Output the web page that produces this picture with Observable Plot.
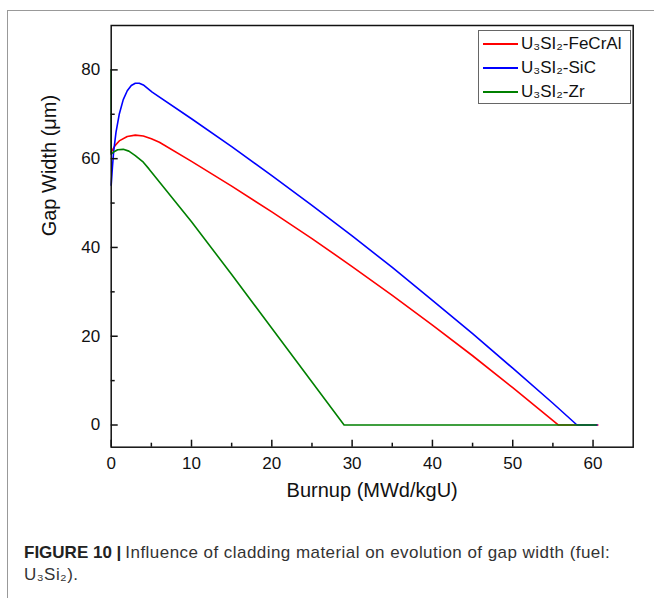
<!DOCTYPE html>
<html><head><meta charset="utf-8">
<script src="https://cdn.jsdelivr.net/npm/d3@7"></script>
<script src="https://cdn.jsdelivr.net/npm/@observablehq/plot@0.6"></script>
<style>
body{margin:0;background:#fff;font-family:"Liberation Sans",Arial,sans-serif;}
#wrap{position:relative;width:654px;height:598px;overflow:hidden;}
#border{position:absolute;left:7px;top:10px;width:700px;height:700px;border-left:1px solid #999;border-top:1px solid #999;}
#chart{position:absolute;left:0;top:0;}
#legend{position:absolute;left:478px;top:30px;width:153px;height:74px;box-sizing:border-box;border:1px solid #666;background:#fff;font-size:17px;color:#111;}
.row{position:absolute;left:0;height:20px;width:150px;}
.sw{position:absolute;left:4px;top:9px;width:35px;height:2px;}
.lab{position:absolute;left:42px;top:0;line-height:20px;white-space:nowrap;}
#caption{position:absolute;left:24px;top:542px;font-size:17px;line-height:22px;color:#333;width:625px;letter-spacing:0.45px;}
#caption div{white-space:nowrap;height:22px;}
#caption b{color:#222;letter-spacing:0;margin-right:4px;}
</style></head>
<body><div id="wrap"><div id="border"></div><div id="chart"></div><div id="legend"></div>
<div id="caption"><div><b>FIGURE 10 |</b><span>Influence of cladding material on evolution of gap width (fuel:</span></div><div>U₃Si₂).</div></div></div>
<script>
// Data
const seriesNames = ["FeCrAl", "SiC", "Zr"];
const seriesColors = ["#ff0000", "#0000ff", "#008000"];
const burnupFeCrAl = [0, 0.5, 1, 2, 3, 4, 5, 6, 10, 15, 20, 25, 30, 35, 40, 45, 50, 55.7, 60.6];
const gapFeCrAl   = [61.5, 63, 64, 65, 65.3, 65.1, 64.5, 63.7, 59.4, 53.8, 48.0, 42.0, 35.7, 29.2, 22.5, 15.6, 8.4, 0, 0];
const burnupSiC = [0, 0.15, 0.3, 0.6, 1, 1.5, 2, 2.5, 3, 3.5, 4, 5.1, 10, 15, 20, 25, 30, 35, 40, 45, 50, 55, 58, 60.5];
const gapSiC   = [54, 58, 61.5, 66, 70, 73.3, 75.3, 76.5, 77, 77, 76.6, 75, 69.0, 62.7, 56.2, 49.5, 42.6, 35.5, 28.1, 20.6, 12.8, 4.9, 0, 0];
const burnupZr = [0, 0, 0.3, 0.8, 1.5, 2.2, 3, 4, 4.7, 10, 15, 20, 25, 29, 60.4];
const gapZr   = [80, 61, 61.5, 62, 62.1, 61.7, 60.7, 59.2, 57.7, 45.8, 33.9, 21.8, 9.7, 0, 0];
const xMajorTicks = [0, 10, 20, 30, 40, 50, 60];
const xMinorTicks = [5, 15, 25, 35, 45, 55];
const yMajorTicks = [0, 20, 40, 60, 80];
const yMinorTicks = [10, 30, 50, 70];

const toRows = (xs, ys, s) => xs.map((x, i) => ({burnup: x, gap: ys[i], series: s}));
const rows = [
  ...toRows(burnupFeCrAl, gapFeCrAl, "FeCrAl"),
  ...toRows(burnupSiC, gapSiC, "SiC"),
  ...toRows(burnupZr, gapZr, "Zr")
];

const W = 654, H = 510, mL = 110.7, mR = 21.3, mT = 25, mB = 63.3;
const pw = W - mL - mR, ph = H - mT - mB;

const chart = Plot.plot({
  width: W, height: H,
  marginLeft: mL, marginRight: mR, marginTop: mT, marginBottom: mB,
  x: {domain: [0, 65]},
  y: {domain: [-5, 90]},
  color: {domain: seriesNames, range: seriesColors},
  style: {fontFamily: "'Liberation Sans', Arial, sans-serif", fontSize: "17px", color: "#111", background: "transparent"},
  marks: [
    Plot.line(rows, {x: "burnup", y: "gap", z: "series", stroke: "series", strokeWidth: 1.6}),
    Plot.frame({stroke: "#111", strokeWidth: 1.5}),
    Plot.axisX(xMajorTicks, {tickSize: 0, tickPadding: 10, label: null, fontSize: 17}),
    Plot.axisY(yMajorTicks, {tickSize: 0, tickPadding: 11, label: null, fontSize: 17}),
    Plot.tickX(xMajorTicks, {x: d => d, insetTop: ph - 7, stroke: "#111", strokeWidth: 1.5}),
    Plot.tickX(xMinorTicks, {x: d => d, insetTop: ph - 4, stroke: "#111", strokeWidth: 1.5}),
    Plot.tickY(yMajorTicks, {y: d => d, insetRight: pw - 7, stroke: "#111", strokeWidth: 1.5}),
    Plot.tickY(yMinorTicks, {y: d => d, insetRight: pw - 4, stroke: "#111", strokeWidth: 1.5}),
    Plot.text(["Burnup (MWd/kgU)"], {frameAnchor: "bottom", dy: 50, fontSize: 20, fill: "#111"}),
    Plot.text(["Gap Width (μm)"], {frameAnchor: "left", dx: -62, rotate: -90, fontSize: 20, fill: "#111"})
  ]
});
document.getElementById("chart").appendChild(chart);

const legend = document.getElementById("legend");
seriesNames.forEach((name, i) => {
  const row = document.createElement("div");
  row.className = "row";
  row.style.top = (3 + i * 24) + "px";
  row.innerHTML = `<div class="sw" style="background:${seriesColors[i]}"></div><div class="lab">U₃SI₂-${name}</div>`;
  legend.appendChild(row);
});
</script></body></html>
